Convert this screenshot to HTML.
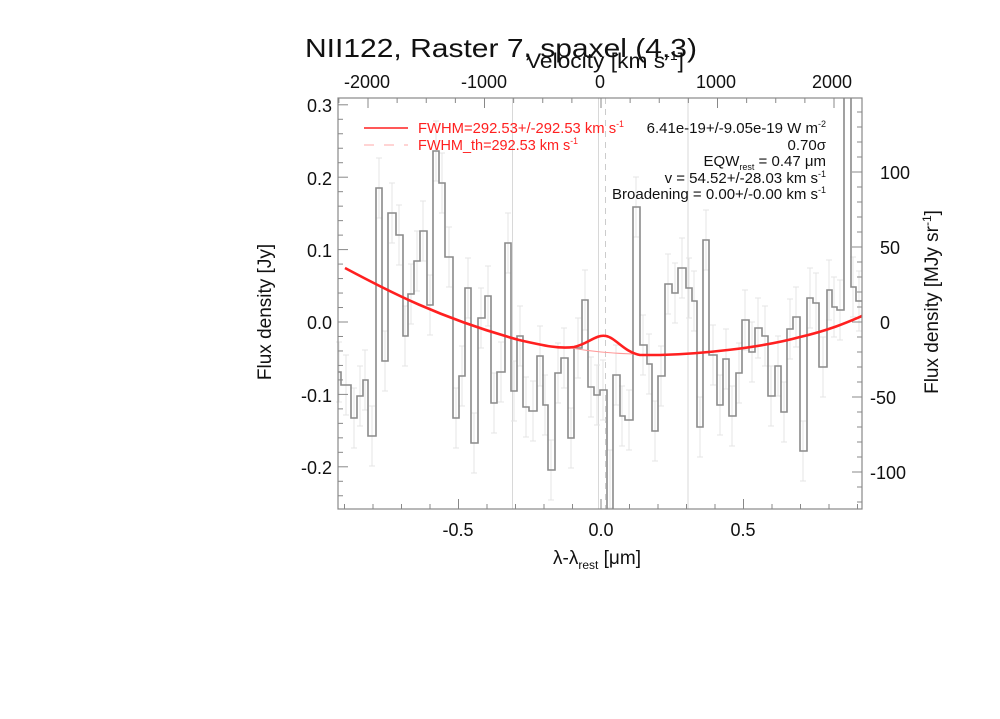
<!DOCTYPE html>
<html><head><meta charset="utf-8"><style>
html,body{margin:0;padding:0;background:#fff;}
svg text{font-family:"Liberation Sans",sans-serif;}
</style></head><body>
<svg width="1000" height="714" viewBox="0 0 1000 714" xmlns="http://www.w3.org/2000/svg">
<rect width="1000" height="714" fill="#fff"/>
<g stroke="#d8d8d8" stroke-width="1">
<line x1="512.5" y1="98" x2="512.5" y2="509"/>
<line x1="688" y1="98" x2="688" y2="509"/>
<line x1="598.5" y1="98" x2="598.5" y2="509"/>
</g>
<line x1="605.5" y1="98" x2="605.5" y2="509" stroke="#ccc" stroke-dasharray="6,5"/>
<g stroke="#e4e4e4" stroke-width="1" id="eb"></g>
<svg x="0" y="0" width="1000" height="714">
<clipPath id="c"><rect x="338" y="98" width="524" height="411"/></clipPath>
<path clip-path="url(#c)" fill="none" stroke="#8a8a8a" stroke-width="1.6" d="M337 372 H341 V385 H351 V418 H357 V396 H363 V380 H368 V436 H376 V188 H382 V361 H388 V213 H396 V235 H403 V336 H408 V294 H414 V261 H420 V231 H427 V305 H433 V151 H439 V183 H445 V257 H453 V418 H459 V376 H465 V288 H471 V443 H478 V318 H485 V296 H491 V403 H497 V372 H505 V243 H511 V391 H517 V336 H523 V407 H529 V411 H537 V356 H543 V405 H548 V470 H555 V373 H561 V358 H568 V438 H574 V348 H582 V300 H588 V387 H594 V395 H600 V390 H607 V520 H613 V375 H620 V416 H625 V420 H633 V207 H640 V345 H647 V364 H652 V431 H658 V376 H665 V284 H672 V293 H678 V268 H686 V288 H692 V301 H697 V427 H703 V240 H709 V355 H717 V405 H723 V359 H729 V416 H736 V373 H742 V320 H749 V352 H755 V328 H762 V336 H768 V396 H775 V366 H781 V412 H787 V329 H793 V317 H800 V451 H807 V298 H813 V303 H819 V367 H827 V290 H832 V307 H837 V310 H844 V90 H851 V287 H856 V301 H862"/>
</svg>
<path d="M571 348 Q600 353 633 354" fill="none" stroke="#ff9a9a" stroke-width="1"/>
<path d="M345 268 C390 292 440 318 519 340 C545 346 560 349 574 347 C588 344 596 334 606 336 C616 338 624 352 640 355 L660 355 C700 354 760 348 800 337 C830 330 848 322 862 316" fill="none" stroke="#ff2020" stroke-width="2.6"/>
<rect x="338" y="98" width="524" height="411" fill="none" stroke="#888" stroke-width="1.2"/>
<g stroke="#888" stroke-width="1" id="ticks"></g>
<line x1="364" y1="128" x2="408" y2="128" stroke="#ff2020" stroke-width="1.6"/>
<line x1="364" y1="145" x2="408" y2="145" stroke="#ffaaaa" stroke-width="1" stroke-dasharray="10,10"/>
<text x="418" y="133" font-size="15" fill="#ff2020" textLength="206" lengthAdjust="spacingAndGlyphs">FWHM=292.53+/-292.53 km s<tspan font-size="9" dy="-6">-1</tspan></text>
<text x="418" y="150" font-size="15" fill="#ff2020" textLength="160" lengthAdjust="spacingAndGlyphs">FWHM_th=292.53 km s<tspan font-size="9" dy="-6">-1</tspan></text>
<g font-size="15" fill="#111" text-anchor="end">
<text x="826" y="133">6.41e-19+/-9.05e-19 W m<tspan font-size="9" dy="-6">-2</tspan></text>
<text x="826" y="150">0.70σ</text>
<text x="826" y="166">EQW<tspan font-size="9" dy="4">rest</tspan><tspan dy="-4"> = 0.47 μm</tspan></text>
<text x="826" y="183">v = 54.52+/-28.03 km s<tspan font-size="9" dy="-6">-1</tspan></text>
<text x="826" y="199">Broadening = 0.00+/-0.00 km s<tspan font-size="9" dy="-6">-1</tspan></text>
</g>
<text x="305" y="57" font-size="26" fill="#111" textLength="392" lengthAdjust="spacingAndGlyphs">NII122, Raster 7, spaxel (4,3)</text>
<text x="526" y="68" font-size="21" fill="#111" textLength="158" lengthAdjust="spacingAndGlyphs">Velocity [km s<tspan font-size="13" dy="-8">-1</tspan><tspan dy="8">]</tspan></text>
<g font-size="18" fill="#111" text-anchor="middle">
<text x="367" y="88">-2000</text><text x="484" y="88">-1000</text><text x="600" y="88">0</text><text x="716" y="88">1000</text><text x="832" y="88">2000</text>
<text x="458" y="536">-0.5</text><text x="601" y="536">0.0</text><text x="743" y="536">0.5</text>
</g>
<g font-size="18" fill="#111" text-anchor="end">
<text x="332" y="112">0.3</text><text x="332" y="185">0.2</text><text x="332" y="257">0.1</text><text x="332" y="329">0.0</text><text x="332" y="402">-0.1</text><text x="332" y="474">-0.2</text>
</g>
<g font-size="18" fill="#111" text-anchor="start">
<text x="880" y="179">100</text><text x="880" y="254">50</text><text x="880" y="329">0</text><text x="870" y="404">-50</text><text x="870" y="479">-100</text>
</g>
<text x="597" y="564" font-size="19" text-anchor="middle" fill="#111">λ-λ<tspan font-size="12" dy="5">rest</tspan><tspan dy="-5"> [μm]</tspan></text>
<text transform="translate(271,312) rotate(-90)" font-size="19" text-anchor="middle" fill="#111">Flux density [Jy]</text>
<text transform="translate(938,302) rotate(-90)" font-size="19" text-anchor="middle" fill="#111">Flux density [MJy sr<tspan font-size="12" dy="-7">-1</tspan><tspan dy="7">]</tspan></text>
</svg>
<script>
(function(){
var ns="http://www.w3.org/2000/svg",t=document.getElementById("ticks"),e=document.getElementById("eb");
function L(g,a,b,c,d){var l=document.createElementNS(ns,"line");l.setAttribute("x1",a);l.setAttribute("y1",b);l.setAttribute("x2",c);l.setAttribute("y2",d);g.appendChild(l);}
for(var v=-0.9;v<=0.91;v+=0.1){var x=601+285*v,m=Math.abs(Math.round(v*10))%5==0;L(t,x,509,x,509-(m?10:5));}
for(var k=-2500;k<=2500;k+=250){var x=601+0.1165*k;if(x<338||x>862)continue;var m=k%1000==0;L(t,x,98,x,98+(m?10:5));}
for(var y=-0.26;y<=0.31;y+=0.02){var py=322-724*y;if(py<98||py>509)continue;var m=Math.abs(Math.round(y*100))%10==0;L(t,338,py,338+(m?10:5),py);}
for(var r=-120;r<=140;r+=10){var py=322-1.5*r;if(py<98||py>509)continue;var m=r%50==0;L(t,862,py,862-(m?10:5),py);}
var xs=[339,346,354,360,365,372,379,385,392,399,405,411,417,423,430,436,442,449,456,462,468,474,481,488,494,501,508,514,520,526,533,540,545,551,558,564,571,578,585,591,597,603,610,616,622,629,636,643,649,655,661,668,675,682,689,694,700,706,713,720,726,732,739,745,752,758,765,771,778,784,790,796,803,810,816,823,829,834,840,853,859];
var ys=[372,385,418,396,380,436,188,361,213,235,336,294,261,231,305,151,183,257,418,376,288,443,318,296,403,372,243,391,336,407,411,356,405,470,373,358,438,348,300,387,395,390,480,375,416,420,207,345,364,431,376,284,293,268,288,301,427,240,355,405,359,416,373,320,352,328,336,396,366,412,329,317,451,298,303,367,290,307,310,287,301];
for(var i=0;i<xs.length;i++){var y1=ys[i]-30,y2=ys[i]+30;if(y1<99)y1=99;if(y2>508)y2=508;L(e,xs[i],y1,xs[i],y2);L(e,xs[i]-3,y1,xs[i]+3,y1);L(e,xs[i]-3,y2,xs[i]+3,y2);}
})();
</script>
</body></html>
